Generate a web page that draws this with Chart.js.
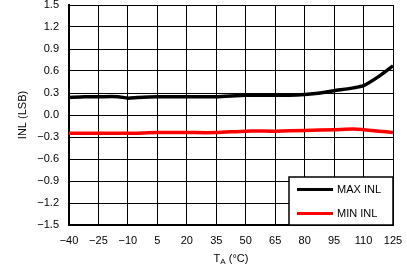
<!DOCTYPE html>
<html>
<head>
<meta charset="utf-8">
<script src="https://cdn.jsdelivr.net/npm/chart.js@4"></script>
<style>
  html, body { margin: 0; padding: 0; background: #fff; }
  #wrap { width: 407px; height: 267px; }
</style>
</head>
<body>
<div id="wrap"><canvas id="inlGraph"></canvas></div>
<script>
// temperature ticks and readings taken from the plot
var xTicks = [-40, -25, -10, 5, 20, 35, 50, 65, 80, 95, 110, 125];
var yTicks = [-1.5, -1.2, -0.9, -0.6, -0.3, 0, 0.3, 0.6, 0.9, 1.2, 1.5];

var maxTemp = [-40, -32, -25, -15, -10, -5, 5, 20, 35, 50, 65, 72, 80, 88, 95, 105, 110, 118, 125];
var maxInl  = [0.24, 0.25, 0.25, 0.25, 0.23, 0.24, 0.25, 0.25, 0.25, 0.27, 0.27, 0.27, 0.28, 0.30, 0.33, 0.37, 0.40, 0.53, 0.67];

var minTemp = [-40, -10, 5, 20, 35, 50, 65, 80, 95, 105, 110, 118, 125];
var minInl  = [-0.25, -0.25, -0.24, -0.24, -0.24, -0.22, -0.22, -0.21, -0.20, -0.19, -0.20, -0.22, -0.24];

var seriesLabels = ['MAX INL', 'MIN INL'];
var seriesColors = ['#000000', '#ff0000'];

var fontFamily = '"Liberation Sans", Arial, sans-serif';

function toPoints(xs, ys) {
    return xs.map(function (x, i) { return { x: x, y: ys[i] }; });
}

function fmt(v) {
    var s = Math.abs(v).toFixed(1);
    if (v < -0.0001) return '\u2212' + s;
    return s;
}

// x title with subscript plus the boxed legend in the lower right corner
var extrasPlugin = {
    id: 'extras',
    afterDraw: function (chart) {
        var ctx = chart.ctx;
        var area = chart.chartArea;
        ctx.save();

        // x axis title: T_A (°C)
        ctx.fillStyle = '#000';
        ctx.textBaseline = 'alphabetic';
        ctx.font = '11px ' + fontFamily;
        var tW = ctx.measureText('T').width;
        ctx.font = '8px ' + fontFamily;
        var aW = ctx.measureText('A').width;
        ctx.font = '11px ' + fontFamily;
        var restW = ctx.measureText(' (\u00b0C)').width;
        var total = tW + aW + restW;
        var cx = (area.left + area.right) / 2;
        var x0 = cx - total / 2;
        var base = 262;
        ctx.textAlign = 'left';
        ctx.fillText('T', x0, base);
        ctx.font = '8px ' + fontFamily;
        ctx.fillText('A', x0 + tW, base + 2);
        ctx.font = '11px ' + fontFamily;
        ctx.fillText(' (\u00b0C)', x0 + tW + aW, base);

        // legend box
        var bx = 289, by = 177, bw = area.right - 289, bh = area.bottom - 177;
        ctx.fillStyle = '#fff';
        ctx.fillRect(bx, by, bw, bh);
        ctx.strokeStyle = '#000';
        ctx.lineWidth = 1.5;
        ctx.strokeRect(bx, by, bw, bh);
        ctx.textBaseline = 'middle';
        ctx.font = '11px ' + fontFamily;
        for (var i = 0; i < seriesLabels.length; i++) {
            var ly = 189.5 + i * 24;
            ctx.strokeStyle = seriesColors[i];
            ctx.lineWidth = 3;
            ctx.beginPath();
            ctx.moveTo(297, ly);
            ctx.lineTo(333, ly);
            ctx.stroke();
            ctx.fillStyle = '#000';
            ctx.fillText(seriesLabels[i], 337, ly);
        }
        ctx.restore();
    }
};

var inlGraph = document.getElementById('inlGraph');
var inlChart = new Chart(inlGraph, {
    type: 'line',
    data: {
        datasets: [{
            label: seriesLabels[0],
            data: toPoints(maxTemp, maxInl),
            borderColor: seriesColors[0],
            backgroundColor: seriesColors[0],
            borderWidth: 3.5,
            pointRadius: 0,
            tension: 0.2
        }, {
            label: seriesLabels[1],
            data: toPoints(minTemp, minInl),
            borderColor: seriesColors[1],
            backgroundColor: seriesColors[1],
            borderWidth: 3.5,
            pointRadius: 0,
            tension: 0.2
        }]
    },
    plugins: [extrasPlugin],
    options: {
        responsive: true,
        maintainAspectRatio: false,
        animation: false,
        layout: { padding: { left: 0, right: 14, top: 5, bottom: 0 } },
        plugins: {
            legend: { display: false },
            tooltip: { enabled: false }
        },
        scales: {
            x: {
                type: 'linear',
                min: -40,
                max: 125,
                afterBuildTicks: function (scale) {
                    scale.ticks = xTicks.map(function (v) { return { value: v }; });
                },
                afterFit: function (scale) {
                    scale.height = 42;
                    scale.paddingLeft = 0;
                    scale.paddingRight = 0;
                },
                ticks: {
                    color: '#000',
                    padding: 9,
                    maxRotation: 0,
                    autoSkip: false,
                    font: { family: fontFamily, size: 11 },
                    callback: function (v) { return fmt(v).replace('.0', ''); }
                },
                grid: { color: '#000', lineWidth: 1, drawTicks: false },
                border: { color: '#000', width: 2 }
            },
            y: {
                min: -1.5,
                max: 1.5,
                afterBuildTicks: function (scale) {
                    scale.ticks = yTicks.map(function (v) { return { value: v }; });
                },
                afterFit: function (scale) {
                    scale.width = 69;
                    scale.paddingTop = 0;
                    scale.paddingBottom = 0;
                },
                ticks: {
                    color: '#000',
                    padding: 10,
                    autoSkip: false,
                    font: { family: fontFamily, size: 11 },
                    callback: function (v) { return fmt(v); }
                },
                grid: { color: '#000', lineWidth: 1, drawTicks: false },
                border: { color: '#000', width: 2 },
                title: {
                    display: true,
                    text: 'INL (LSB)',
                    color: '#000',
                    padding: { top: 16, bottom: 0 },
                    font: { family: fontFamily, size: 11 }
                }
            }
        }
    }
});
</script>
</body>
</html>
